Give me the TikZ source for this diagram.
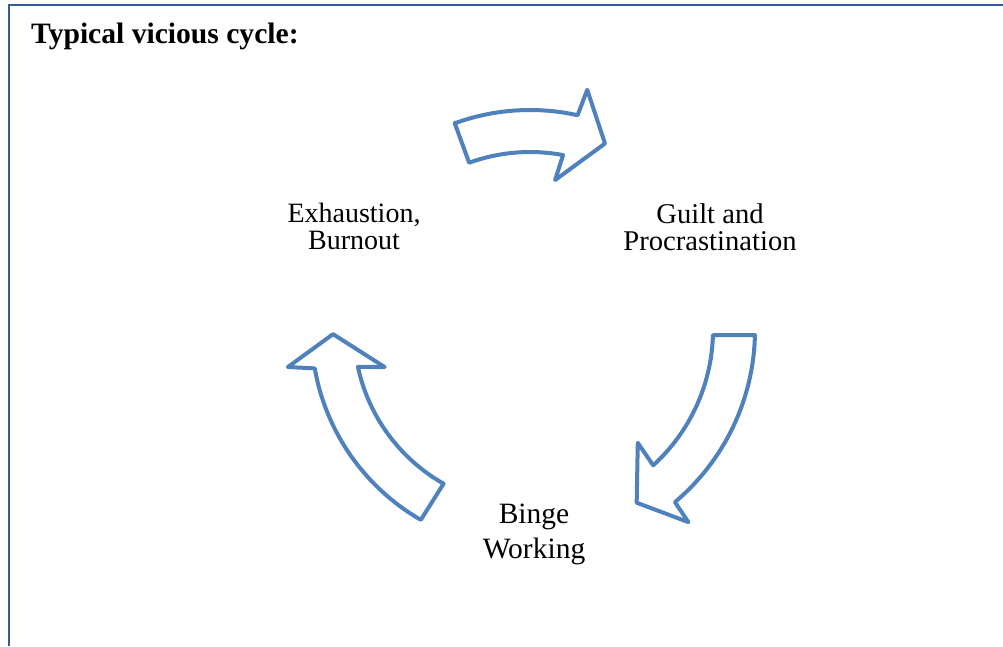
\documentclass[tikz,border=0pt]{standalone}
\usepackage{fontspec}
\setmainfont{Liberation Serif}
\usetikzlibrary{calc}
\definecolor{frameblue}{RGB}{54,95,145}
\definecolor{arrowblue}{RGB}{79,129,189}
\begin{document}
\begin{tikzpicture}[x=1pt,y=1pt,
  cyc/.style={draw=arrowblue, line width=4pt, line join=round, fill=white},
  lbl/.style={align=center, inner sep=0pt}]
\useasboundingbox (0,0) rectangle (1003,-646);
\draw[frameblue, line width=2.8pt] (9,-646) -- (9,-5) -- (1003,-5);
\node[anchor=base west, font=\bfseries\fontsize{29.6}{30}\selectfont, inner sep=0pt] (title) at (31,-43) {Typical vicious cycle:};
\coordinate (C) at (530,-330);
% top arrow
\draw[cyc] ($(C)+(110:220)$) arc[start angle=110, end angle=77.5, radius=220]
  -- ($(C)+(76.6:247)$) -- ($(C)+(68.1:201)$) -- ($(C)+(80.5:152)$)
  -- ($(C)+(79.3:178)$) arc[start angle=79.3, end angle=110, radius=178] -- cycle;
% right arrow
\draw[cyc] ($(C)+(-1.3:225)$) arc[start angle=-1.3, end angle=-49.9, radius=225]
  -- ($(C)+(-50.5:249)$) -- ($(C)+(-58.3:203)$) -- ($(C)+(-46.3:156)$)
  -- ($(C)+(-47.7:183)$) arc[start angle=-47.7, end angle=-1.6, radius=183] -- cycle;
% left arrow
\draw[cyc] ($(C)+(240.1:219)$) arc[start angle=240.1, end angle=189.9, radius=218]
  -- ($(C)+(188.7:245)$) -- ($(C)+(181.2:197)$) -- ($(C)+(194.3:150)$)
  -- ($(C)+(192.1:176)$) arc[start angle=192.1, end angle=240.4, radius=177] -- cycle;
\node[lbl, font=\fontsize{28}{27}\selectfont] (exh) at (354,-226) {Exhaustion,\\Burnout};
\node[lbl, font=\fontsize{28.6}{27.5}\selectfont] (guilt) at (710,-227) {Guilt and\\Procrastination};
\node[lbl, font=\fontsize{29.5}{35}\selectfont] (binge) at (534,-534) {Binge\\Working};
\end{tikzpicture}
\end{document}
